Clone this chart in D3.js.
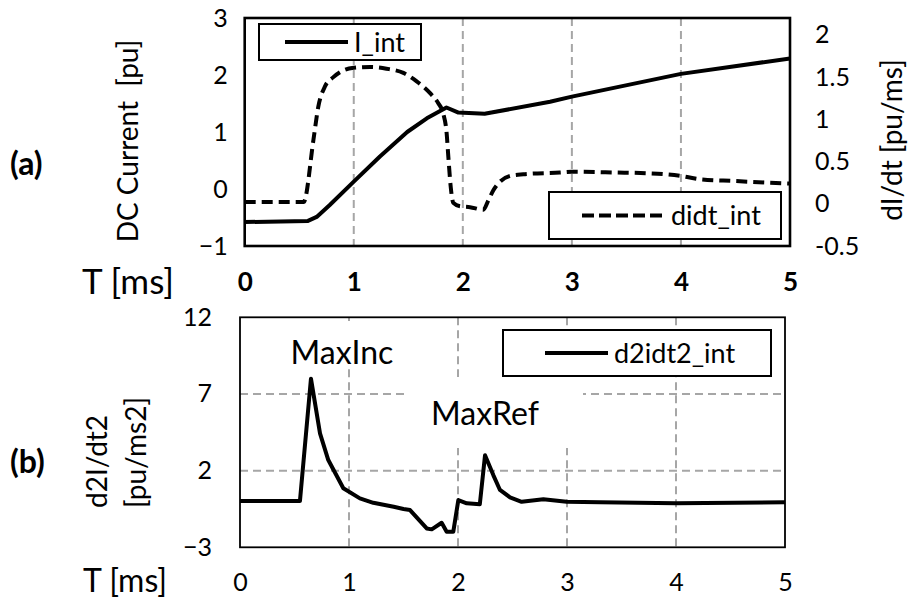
<!DOCTYPE html>
<html>
<head>
<meta charset="utf-8">
<script src="https://cdn.jsdelivr.net/npm/d3@7"></script>
<style>
  html, body { margin: 0; padding: 0; background: #fff; }
  svg { display: block; font-family: Lato, "Open Sans", sans-serif; }
</style>
</head>
<body>
<svg id="chart" width="917" height="601"></svg>
<script>
// ---------- data ----------
// (a) DC current I_int [pu] vs T [ms]
const tI   = [0, 0.58, 0.66, 0.78, 1.0, 1.24, 1.49, 1.67, 1.85, 1.96, 2.2, 2.8, 3.0, 4.0, 5.0];
const iInt = [-0.58, -0.56, -0.49, -0.28, 0.13, 0.57, 1.0, 1.24, 1.43, 1.34, 1.32, 1.53, 1.62, 2.02, 2.29];

// (a) dI/dt didt_int [pu/ms]
const tDidt = [0, 0.54, 0.63, 0.675, 0.736, 0.813, 0.904, 1.0, 1.15, 1.3, 1.455, 1.577, 1.7, 1.775, 1.82, 1.852, 1.867, 1.889, 1.913, 1.974, 2.066, 2.188, 2.234, 2.28, 2.34, 2.433, 2.555, 2.89, 3.0, 3.41, 3.72, 4.0, 4.18, 4.48, 5.0];
const didt  = [0.02, 0.02, 0.755, 1.15, 1.39, 1.50, 1.58, 1.61, 1.62, 1.60, 1.55, 1.45, 1.31, 1.19, 1.07, 0.83, 0.56, 0.20, 0.01, -0.03, -0.04, -0.07, 0.04, 0.16, 0.26, 0.33, 0.35, 0.37, 0.38, 0.37, 0.36, 0.33, 0.29, 0.27, 0.24];

// (b) d2I/dt2 d2idt2_int [pu/ms2]
const tD2 = [0, 0.55, 0.651, 0.734, 0.81, 0.948, 1.10, 1.223, 1.41, 1.5, 1.56, 1.713, 1.759, 1.85, 1.896, 1.957, 2.003, 2.08, 2.2, 2.248, 2.324, 2.385, 2.477, 2.584, 2.783, 2.997, 3.303, 4.0, 5.0];
const d2  = [0.02, 0.02, 8.0, 4.43, 2.69, 0.85, 0.19, -0.1, -0.36, -0.5, -0.57, -1.77, -1.83, -1.4, -1.98, -1.98, 0.08, -0.13, -0.2, 3.0, 1.71, 0.74, 0.26, -0.03, 0.13, -0.03, -0.07, -0.13, -0.07];

// tick values / labels
const xTicks       = [0, 1, 2, 3, 4, 5];
const xGridTicks   = [1, 2, 3, 4];
const yTicksA      = [-1, 0, 1, 2, 3];
const yTicksA2     = [-0.5, 0, 0.5, 1, 1.5, 2];
const yTicksB      = [-3, 2, 7, 12];
const yGridTicksB  = [2, 7];

// ---------- drawing ----------
const svg = d3.select("#chart");
const gridColor = "#a6a6a6";
const FONT = "Lato, 'Open Sans', sans-serif";

// ===== panel (a) =====
const xA  = d3.scaleLinear([0, 5], [244.7, 790]);
const yA  = d3.scaleLinear([-1, 3], [246, 18]);
const yA2 = d3.scaleLinear([-0.5, 2.2], [246, 18]);

const gA = svg.append("g");
gA.selectAll("line.vgrid").data(xGridTicks).join("line")
  .attr("x1", d => xA(d)).attr("x2", d => xA(d))
  .attr("y1", yA.range()[1]).attr("y2", yA.range()[0])
  .attr("stroke", gridColor).attr("stroke-width", 2).attr("stroke-dasharray", "8,5");

const lineI = d3.line().x((d, i) => xA(tI[i])).y(d => yA(d));
gA.append("path").datum(iInt).attr("d", lineI)
  .attr("fill", "none").attr("stroke", "#000").attr("stroke-width", 4)
  .attr("stroke-linejoin", "round");

const lineD = d3.line().x((d, i) => xA(tDidt[i])).y(d => yA2(d)).curve(d3.curveMonotoneX);
gA.append("path").datum(didt).attr("d", lineD)
  .attr("fill", "none").attr("stroke", "#000").attr("stroke-width", 4)
  .attr("stroke-dasharray", "11,6").attr("stroke-linejoin", "round");

// frame
gA.append("rect").attr("x", xA.range()[0]).attr("y", yA.range()[1])
  .attr("width", xA.range()[1] - xA.range()[0]).attr("height", yA.range()[0] - yA.range()[1])
  .attr("fill", "none").attr("stroke", "#000").attr("stroke-width", 2.6);

// legends
function legend(g, x, y, w, h, lx1, lx2, label, dash) {
  g.append("rect").attr("x", x).attr("y", y).attr("width", w).attr("height", h)
    .attr("fill", "#fff").attr("stroke", "#000").attr("stroke-width", 2);
  const ln = g.append("line").attr("x1", lx1).attr("x2", lx2)
    .attr("y1", y + h / 2).attr("y2", y + h / 2)
    .attr("stroke", "#000").attr("stroke-width", 4);
  if (dash) ln.attr("stroke-dasharray", dash);
  g.append("text").attr("x", lx2 + 6).attr("y", y + h / 2).attr("dy", "0.36em")
    .attr("font-size", 27).text(label);
}
legend(gA, 259, 24, 162, 36, 285, 348, "I_int", null);
legend(gA, 549, 192, 232, 47, 582, 665, "didt_int", "12,5");

// axes
function styleAxis(sel, size, weight) {
  sel.select(".domain").remove();
  sel.selectAll(".tick line").remove();
  sel.selectAll("text").attr("font-size", size).attr("font-family", FONT)
    .attr("font-weight", weight).attr("fill", "#000");
}
gA.append("g").attr("transform", `translate(${xA.range()[0]},0)`)
  .call(d3.axisLeft(yA).tickValues(yTicksA).tickSize(0).tickPadding(17).tickFormat(d3.format("d")))
  .call(s => styleAxis(s, 25, "normal"));
gA.append("g").attr("transform", `translate(${xA.range()[1]},0)`)
  .call(d3.axisRight(yA2).tickValues(yTicksA2).tickSize(0).tickPadding(25).tickFormat(d => String(d)))
  .call(s => styleAxis(s, 25, "normal"));
gA.append("g").attr("transform", `translate(0,${yA.range()[0]})`)
  .call(d3.axisBottom(xA).tickValues(xTicks).tickSize(0).tickPadding(27).tickFormat(d3.format("d")))
  .call(s => styleAxis(s, 26, "bold"));

// titles (a)
svg.append("text").attr("x", 10).attr("y", 175).attr("font-size", 32).attr("font-weight", "bold").text("(a)");
svg.append("text").attr("transform", "translate(138,141) rotate(-90)").attr("text-anchor", "middle")
  .attr("font-size", 28).text("DC Current\u00A0\u00A0[pu]");
svg.append("text").attr("transform", "translate(902,140) rotate(-90)").attr("text-anchor", "middle")
  .attr("font-size", 28).text("dI/dt [pu/ms]");
svg.append("text").attr("x", 82).attr("y", 294).attr("font-size", 35).text("T [ms]");

// ===== panel (b) =====
const xB = d3.scaleLinear([0, 5], [240, 785]);
const yB = d3.scaleLinear([-3, 12], [547.3, 317.3]);
const gB = svg.append("g");

gB.selectAll("line.vgrid").data(xGridTicks).join("line")
  .attr("x1", d => xB(d)).attr("x2", d => xB(d))
  .attr("y1", yB.range()[1]).attr("y2", yB.range()[0])
  .attr("stroke", gridColor).attr("stroke-width", 2).attr("stroke-dasharray", "8,5");
gB.selectAll("line.hgrid").data(yGridTicksB).join("line")
  .attr("x1", xB.range()[0]).attr("x2", xB.range()[1])
  .attr("y1", d => yB(d)).attr("y2", d => yB(d))
  .attr("stroke", gridColor).attr("stroke-width", 2).attr("stroke-dasharray", "8,5");

// white backgrounds behind annotations
gB.append("rect").attr("x", 272).attr("y", 321).attr("width", 140).attr("height", 46).attr("fill", "#fff");
gB.append("rect").attr("x", 409).attr("y", 377).attr("width", 174).attr("height", 71).attr("fill", "#fff");
gB.append("text").attr("x", 342).attr("y", 364).attr("text-anchor", "middle").attr("font-size", 32).text("MaxInc");
gB.append("text").attr("x", 485).attr("y", 425).attr("text-anchor", "middle").attr("font-size", 32).text("MaxRef");

const line2 = d3.line().x((d, i) => xB(tD2[i])).y(d => yB(d));
gB.append("path").datum(d2).attr("d", line2)
  .attr("fill", "none").attr("stroke", "#000").attr("stroke-width", 4)
  .attr("stroke-linejoin", "round");

gB.append("rect").attr("x", xB.range()[0]).attr("y", yB.range()[1])
  .attr("width", xB.range()[1] - xB.range()[0]).attr("height", yB.range()[0] - yB.range()[1])
  .attr("fill", "none").attr("stroke", "#000").attr("stroke-width", 1.8);

legend(gB, 503, 330, 268, 46, 545, 608, "d2idt2_int", null);

gB.append("g").attr("transform", `translate(${xB.range()[0]},0)`)
  .call(d3.axisLeft(yB).tickValues(yTicksB).tickSize(0).tickPadding(28).tickFormat(d3.format("d")))
  .call(s => styleAxis(s, 25, "normal"));
gB.append("g").attr("transform", `translate(0,${yB.range()[0]})`)
  .call(d3.axisBottom(xB).tickValues(xTicks).tickSize(0).tickPadding(26).tickFormat(d3.format("d")))
  .call(s => styleAxis(s, 25, "normal"));

svg.append("text").attr("x", 10).attr("y", 473).attr("font-size", 32).attr("font-weight", "bold").text("(b)");
svg.append("text").attr("transform", "translate(107,508) rotate(-90)").attr("text-anchor", "start")
  .attr("font-size", 28).text("d2I/dt2");
svg.append("text").attr("transform", "translate(146,508) rotate(-90)").attr("text-anchor", "start")
  .attr("font-size", 28).text("[pu/ms2]");
svg.append("text").attr("x", 83).attr("y", 592).attr("font-size", 32).text("T [ms]");
</script>
</body>
</html>
